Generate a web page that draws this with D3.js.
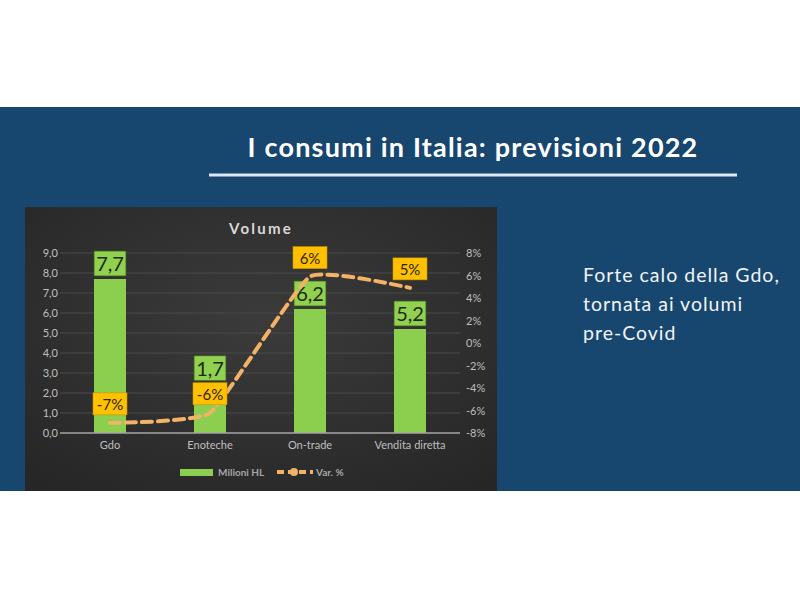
<!DOCTYPE html>
<html><head><meta charset="utf-8">
<script src="https://cdn.jsdelivr.net/npm/d3@7"></script>
<style>html,body{margin:0;padding:0;background:#fff;}</style>
</head><body><svg id="c" width="800" height="600"></svg>
<script>
const categories = ["Gdo", "Enoteche", "On-trade", "Vendita diretta"];
const volumes = [7.7, 1.7, 6.2, 5.2];
const volumeLabels = ["7,7", "1,7", "6,2", "5,2"];
const variations = [-7.1, -6.2, 5.9, 4.9];
const variationLabels = ["-7%", "-6%", "6%", "5%"];
const leftTicks = [0, 1, 2, 3, 4, 5, 6, 7, 8, 9];
const rightTicks = [-8, -6, -4, -2, 0, 2, 4, 6, 8];
const titleText = "I consumi in Italia: previsioni 2022";
const chartTitle = "Volume";
const sideText = ["Forte calo della Gdo,", "tornata ai volumi", "pre-Covid"];
const legendLabels = ["Milioni HL", "Var. %"];

const font = "'Century Gothic','Lato','DejaVu Sans',sans-serif";
const svg = d3.select("#c");
const defs = svg.append("defs");
const bg = defs.append("radialGradient").attr("id","bg").attr("cx","50%").attr("cy","40%").attr("r","75%");
bg.append("stop").attr("offset","0%").attr("stop-color","#3b3b3b");
bg.append("stop").attr("offset","100%").attr("stop-color","#262626");

svg.append("rect").attr("x",0).attr("y",107).attr("width",800).attr("height",384).attr("fill","#17466f");
svg.append("text").attr("x",473).attr("y",157).attr("text-anchor","middle")
  .attr("font-family",font).attr("font-weight","bold").attr("font-size",27).attr("letter-spacing",1.2).attr("fill","#fff").text(titleText);
svg.append("line").attr("x1",209).attr("x2",737).attr("y1",175).attr("y2",175)
  .attr("stroke","#dbe8f5").attr("stroke-width",3);
svg.append("g").selectAll("text").data(sideText).join("text")
  .attr("x",583).attr("y",(d,i)=>282+i*29).attr("font-family",font).attr("font-size",19.5).attr("letter-spacing",1)
  .attr("fill","#f2f4f7").text(d=>d);

// chart panel
svg.append("rect").attr("x",25).attr("y",207).attr("width",472).attr("height",284).attr("fill","url(#bg)");
svg.append("text").attr("x",261).attr("y",234).attr("text-anchor","middle").attr("font-family",font)
  .attr("font-weight","bold").attr("font-size",15).attr("letter-spacing",2.2).attr("fill","#d9d9d9").text(chartTitle);

const x = d3.scaleBand().domain(categories).range([60,460]).paddingInner(0.68).paddingOuter(0.34);
const y = d3.scaleLinear().domain([0,9]).range([433,253]);
const y2 = d3.scaleLinear().domain([-8,8]).range([433,253]);
const cx = i => x(categories[i]) + x.bandwidth()/2;

// grid
svg.append("g").selectAll("line").data(leftTicks.filter(d=>d>0)).join("line")
  .attr("x1",60).attr("x2",460).attr("y1",d=>y(d)).attr("y2",d=>y(d))
  .attr("stroke","#4a4a4a").attr("stroke-width",1);

const tickFmt = d3.format(".1f");
const la = svg.append("g").attr("transform","translate(60,0)")
  .call(d3.axisLeft(y).tickValues(leftTicks).tickSize(0).tickPadding(2).tickFormat(d=>tickFmt(d).replace(".",",")));
la.select(".domain").remove();
la.selectAll("text").attr("font-family",font).attr("font-size",11).attr("fill","#bfbfbf");

const ra = svg.append("g").attr("transform","translate(460,0)")
  .call(d3.axisRight(y2).tickValues(rightTicks).tickSize(0).tickPadding(6).tickFormat(d=>d+"%"));
ra.select(".domain").remove();
ra.selectAll("text").attr("font-family",font).attr("font-size",11).attr("fill","#bfbfbf");

// bars
svg.append("g").selectAll("rect").data(volumes).join("rect")
  .attr("x",(d,i)=>x(categories[i])).attr("width",x.bandwidth())
  .attr("y",d=>y(d)).attr("height",d=>y(0)-y(d)).attr("fill","#8ccf4e");

// baseline
svg.append("line").attr("x1",60).attr("x2",460).attr("y1",y(0)).attr("y2",y(0)).attr("stroke","#a6a6a6").attr("stroke-width",1.5);

const ba = svg.append("g").attr("transform",`translate(0,${y(0)})`).call(d3.axisBottom(x).tickSize(0).tickPadding(8));
ba.select(".domain").remove();
ba.selectAll("text").attr("font-family",font).attr("font-size",11).attr("fill","#bfbfbf");

// variation label geometry (box centered 19px above the point)
const vTop = i => y2(variations[i]) - 19 - 11;
const vBottom = i => y2(variations[i]) - 19 + 11;

// bar labels: sit on top of bar; if it would collide with the % label, move above it
const barLabelBottom = (d,i) => {
  let b = y(d) - 3;
  if (b - 25 < vBottom(i) && b > vTop(i)) b = vTop(i) - 2;
  return b;
};
const bl = svg.append("g").selectAll("g").data(volumes).join("g")
  .attr("transform",(d,i)=>`translate(${cx(i)},${barLabelBottom(d,i)})`);
bl.append("rect").attr("x",-x.bandwidth()/2).attr("width",x.bandwidth()).attr("y",-25).attr("height",25)
  .attr("fill","#92d050").attr("stroke","#3a5a20").attr("stroke-width",0.8);
bl.append("text").attr("y",-5).attr("text-anchor","middle").attr("font-family",font).attr("font-size",20)
  .attr("fill","#1b2a12").text((d,i)=>volumeLabels[i]);

// line
const line = d3.line().x((d,i)=>cx(i)).y(d=>y2(d)).curve(d3.curveCardinal.tension(0.6));
svg.append("path").datum(variations).attr("d",line).attr("fill","none").attr("stroke","#f4b266")
  .attr("stroke-width",4).attr("stroke-dasharray","10,6").attr("stroke-linecap","round");

const vl = svg.append("g").selectAll("g").data(variations).join("g")
  .attr("transform",(d,i)=>`translate(${cx(i)},${y2(d)-19})`);
vl.append("rect").attr("x",-17).attr("width",34).attr("y",-11).attr("height",22)
  .attr("fill","#ffc000").attr("stroke","#c99400").attr("stroke-width",0.6);
vl.append("text").attr("y",6).attr("text-anchor","middle").attr("font-family",font).attr("font-size",15)
  .attr("fill","#2b2410").text((d,i)=>variationLabels[i]);

// legend
const lg = svg.append("g");
lg.append("rect").attr("x",180).attr("y",469).attr("width",33).attr("height",7).attr("fill","#8ccf4e");
lg.append("text").attr("x",218).attr("y",476).attr("font-family",font).attr("font-size",10).attr("font-weight","bold").attr("fill","#a6a6a6").text(legendLabels[0]);
lg.append("line").attr("x1",277).attr("x2",313).attr("y1",472).attr("y2",472).attr("stroke","#f4b266").attr("stroke-width",4).attr("stroke-dasharray","7,4");
lg.append("circle").attr("cx",294).attr("cy",472).attr("r",4).attr("fill","#f4b266");
lg.append("text").attr("x",316).attr("y",476).attr("font-family",font).attr("font-size",10).attr("font-weight","bold").attr("fill","#a6a6a6").text(legendLabels[1]);
</script></body></html>
